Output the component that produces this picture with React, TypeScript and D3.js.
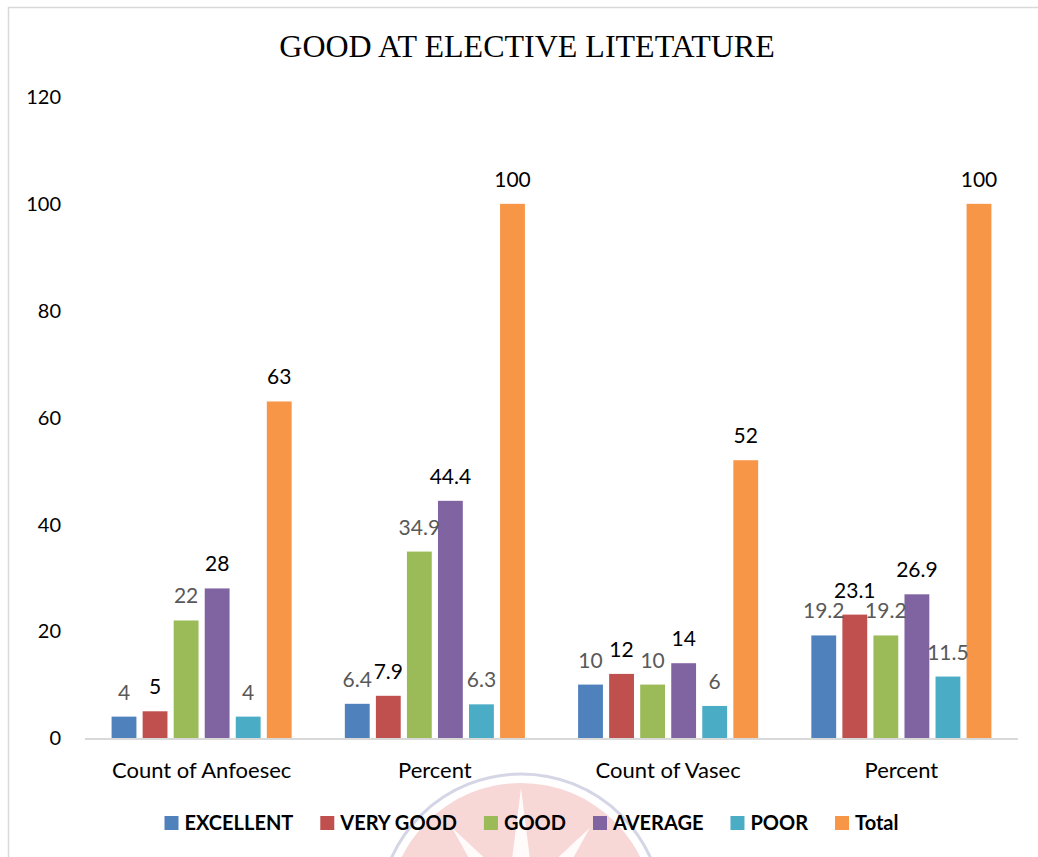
import React, { useEffect, useRef } from "react";
import * as d3 from "d3";

const categories = ["Count of Anfoesec", "Percent", "Count of Vasec", "Percent"];
const seriesNames = ["EXCELLENT", "VERY GOOD", "GOOD", "AVERAGE", "POOR", "Total"];
const excellent = [4, 6.4, 10, 19.2];
const veryGood = [5, 7.9, 12, 23.1];
const good = [22, 34.9, 10, 19.2];
const average = [28, 44.4, 14, 26.9];
const poor = [4, 6.3, 6, 11.5];
const total = [63, 100, 52, 100];
const seriesColors = ["#4f81bd", "#c0504d", "#9bbb59", "#8064a2", "#4bacc6", "#f79646"];
const labelColors = ["#595959", "#000000", "#595959", "#000000", "#595959", "#000000"];
const yTicks = [0, 20, 40, 60, 80, 100, 120];
const titleText = "GOOD AT ELECTIVE LITETATURE";

const seriesValues = [excellent, veryGood, good, average, poor, total];

const W = 1038;
const H = 857;
const SANS = "Lato, 'Open Sans', sans-serif";

export default function App() {
  const ref = useRef<SVGSVGElement | null>(null);

  useEffect(() => {
    const svg = d3.select(ref.current);
    svg.selectAll("*").remove();

    // chart frame
    svg.append("rect")
      .attr("x", 8.5).attr("y", 7.5)
      .attr("width", W + 20).attr("height", H + 20)
      .attr("fill", "#ffffff").attr("stroke", "#d9d9d9").attr("stroke-width", 1.5);

    // faint emblem behind the legend
    const emb = svg.append("g").attr("transform", "translate(521,916)");
    emb.append("circle").attr("r", 142).attr("fill", "none")
      .attr("stroke", "#c9cce0").attr("stroke-width", 3).attr("opacity", 0.8);
    emb.append("circle").attr("r", 133).attr("fill", "#f4c2c2").attr("opacity", 0.65);
    const spikes = [-160, -128, -90, -52, -20];
    spikes.forEach((a) => {
      const r = (a * Math.PI) / 180;
      const tipR = a === -90 ? 128 : 112;
      const tip = [Math.cos(r) * tipR, Math.sin(r) * tipR];
      const l = r - 0.2, rr = r + 0.2;
      const base = [
        [Math.cos(l) * 50, Math.sin(l) * 50],
        [Math.cos(rr) * 50, Math.sin(rr) * 50],
      ];
      emb.append("path")
        .attr("d", `M${base[0][0]},${base[0][1]}L${tip[0]},${tip[1]}L${base[1][0]},${base[1][1]}Z`)
        .attr("fill", "#ffffff").attr("opacity", 0.9);
    });
    emb.append("circle").attr("r", 55).attr("fill", "#ffffff").attr("opacity", 0.9);

    const x0 = d3.scaleBand<number>()
      .domain(d3.range(categories.length))
      .range([85, 1018])
      .paddingInner(0.228)
      .paddingOuter(0.114);
    const x1 = d3.scaleBand<number>()
      .domain(d3.range(seriesNames.length))
      .range([0, x0.bandwidth()])
      .paddingInner(0.2);
    const y = d3.scaleLinear().domain([0, 120]).range([738, 97]);

    // title
    svg.append("text")
      .attr("x", 527).attr("y", 57)
      .attr("text-anchor", "middle")
      .attr("font-family", "'Liberation Serif', 'Times New Roman', serif")
      .attr("font-size", 32)
      .attr("fill", "#000")
      .text(titleText);

    // y tick labels
    svg.append("g").selectAll("text")
      .data(yTicks).join("text")
      .attr("x", 61).attr("y", (d) => y(d))
      .attr("dy", "0.36em")
      .attr("text-anchor", "end")
      .attr("font-family", SANS).attr("font-size", 20)
      .attr("fill", "#000")
      .text((d) => d3.format("d")(d));

    // bars
    const groups = svg.append("g").selectAll("g")
      .data(categories.map((_, i) => i)).join("g")
      .attr("transform", (i) => `translate(${x0(i)},0)`);

    groups.each(function (ci) {
      const g = d3.select(this);
      const rows = seriesValues.map((vals, si) => ({ si, v: vals[ci] }));
      g.selectAll("rect").data(rows).join("rect")
        .attr("x", (d) => x1(d.si)!)
        .attr("width", x1.bandwidth())
        .attr("y", (d) => y(d.v))
        .attr("height", (d) => y(0) - y(d.v))
        .attr("fill", (d) => seriesColors[d.si]);
      g.selectAll("text").data(rows).join("text")
        .attr("x", (d) => x1(d.si)! + x1.bandwidth() / 2)
        .attr("y", (d) => y(d.v) - 17)
        .attr("text-anchor", "middle")
        .attr("font-family", SANS).attr("font-size", 21)
        .attr("fill", (d) => labelColors[d.si])
        .text((d) => String(d.v));
    });

    // axis line
    svg.append("line")
      .attr("x1", 85).attr("x2", 1018)
      .attr("y1", y(0) + 1).attr("y2", y(0) + 1)
      .attr("stroke", "#d9d9d9").attr("stroke-width", 2);

    // category labels
    svg.append("g").selectAll("text")
      .data(categories.map((c, i) => ({ c, i }))).join("text")
      .attr("x", (d) => x0(d.i)! + x0.bandwidth() / 2)
      .attr("y", 778)
      .attr("text-anchor", "middle")
      .attr("font-family", SANS).attr("font-size", 22)
      .attr("fill", "#000")
      .text((d) => d.c);

    // legend
    const leg = svg.append("g");
    const items = leg.selectAll("g").data(seriesNames.map((n, i) => ({ n, i }))).join("g");
    items.append("rect")
      .attr("width", 14).attr("height", 14)
      .attr("y", 816)
      .attr("fill", (d) => seriesColors[d.i]);
    items.append("text")
      .attr("x", 20).attr("y", 830)
      .attr("font-family", SANS).attr("font-size", 20).attr("font-weight", "bold")
      .attr("fill", "#000")
      .text((d) => d.n);
    const widths: number[] = [];
    items.selectAll<SVGTextElement, unknown>("text").each(function () {
      widths.push(20 + this.getComputedTextLength());
    });
    const gap = 27;
    const totalW = d3.sum(widths) + gap * (widths.length - 1);
    let cx = 531.5 - totalW / 2;
    items.attr("transform", (_, i) => {
      const t = `translate(${cx},0)`;
      cx += widths[i] + gap;
      return t;
    });
  }, []);

  return (
    <svg
      ref={ref}
      width={W}
      height={H}
      style={{ position: "absolute", left: 0, top: 0, background: "#fff" }}
    />
  );
}
